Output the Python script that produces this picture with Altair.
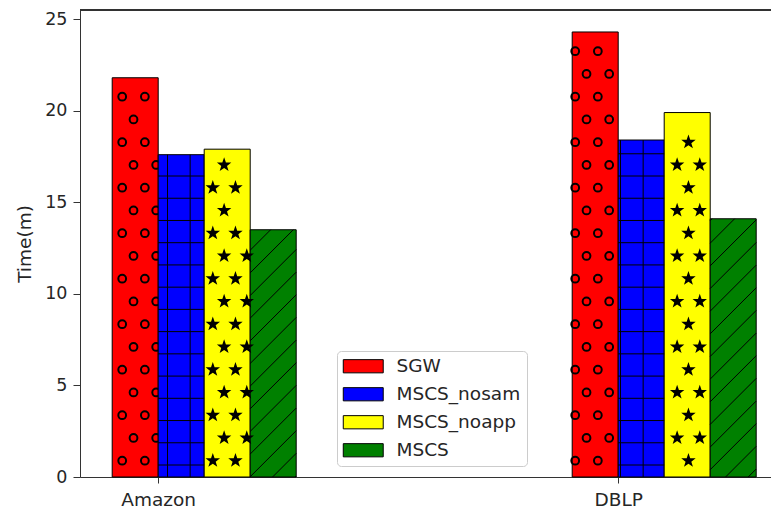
import math
import altair as alt
import numpy as np
import pandas as pd

# ---------------- data ----------------
categories = ["Amazon", "DBLP"]
series = ["SGW", "MSCS_nosam", "MSCS_noapp", "MSCS"]
sgw = [21.8, 24.3]
mscs_nosam = [17.6, 18.4]
mscs_noapp = [17.9, 19.9]
mscs = [13.5, 14.1]
colors = ["#ff0000", "#0000ff", "#ffff00", "#008000"]
y_ticks = [0, 5, 10, 15, 20, 25]

values = [sgw, mscs_nosam, mscs_noapp, mscs]

# ---------------- layout / style ----------------
PAD_L = 72
W, H = 691, 467
X_DOM = [-0.17, -0.17 + W / 460.0]
Y_DOM = [0, 25.5]
BAR_W = 0.1
PX_X = W / (X_DOM[1] - X_DOM[0])   # px per x unit
PX_Y = H / (Y_DOM[1] - Y_DOM[0])   # px per y unit
FONT = "DejaVu Sans"
FS = 18.5
TXT = "#262626"
SPINE = "#333333"

rows = []
for si, s in enumerate(series):
    for gi, c in enumerate(categories):
        x0 = gi + (si - 1) * BAR_W
        rows.append(dict(series=s, order=si, group=gi, category=c, x=x0, x2=x0 + BAR_W,
                         value=values[si][gi]))
bars = pd.DataFrame(rows)

# ---------------- hatch geometry (style) ----------------
DX = 22.65 / PX_X
DY = 22.75 / PX_Y
X_ORIGIN = -36.0 / PX_X
Y_ORIGIN = 16.3 / PX_Y


def lattice(x0, x1, top, ml, mr, my, nb_top, rad):
    pts = []
    m_max = int(top / DY) + 3
    for m in range(-1, m_max):
        y = Y_ORIGIN + m * DY
        if y < my or y > top - my:
            continue
        off = DX / 2 if m % 2 else 0.0
        kmin = int(math.floor((x0 - X_ORIGIN - off) / DX)) - 1
        for k in range(kmin, kmin + 8):
            x = X_ORIGIN + off + k * DX
            if not (x0 + ml <= x <= x1 - mr):
                continue
            # glyphs reaching past the right edge must sit over the next bar
            if x > x1 - rad / PX_X and y > nb_top - rad / PX_Y:
                continue
            pts.append((x, y))
    return pts


circ, stars, segs = [], [], []
for _, r in bars.iterrows():
    x0, x1, v = r["x"], r["x2"], r["value"]
    si, gi = r["order"], r["group"]
    nb = values[si + 1][gi] if si + 1 < len(series) else 0
    if si == 0:
        for x, y in lattice(x0, x1, v, 2.9 / PX_X, 0.5 / PX_X, 4.5 / PX_Y, nb, 5.5):
            circ.append(dict(x=x, y=y))
    elif si == 2:
        for x, y in lattice(x0, x1, v, 5.0 / PX_X, 0.5 / PX_X, 7.0 / PX_Y, nb, 8.0):
            stars.append(dict(x=x, y=y))
    elif si == 1:
        kmin = int(math.floor((x0 - X_ORIGIN) / DX)) - 1
        for k in range(kmin, kmin + 8):
            x = X_ORIGIN + k * DX
            if x0 + 1.5 / PX_X < x < x1 - 1.5 / PX_X:
                segs.append(dict(x=x, x2=x, y=0, y2=v))
        HY0, HDY = 12.0 / PX_Y, 22.23 / PX_Y
        n = 0
        while HY0 + n * HDY < v - 1.5 / PX_Y:
            segs.append(dict(x=x0, x2=x1, y=HY0 + n * HDY, y2=HY0 + n * HDY))
            n += 1
    else:
        d0, dp = 1.1, 22.65
        dmin = PX_X * x0 - PX_Y * v
        dmax = PX_X * x1
        n = int(math.floor((dmin - d0) / dp))
        while d0 + n * dp <= dmax:
            d = d0 + n * dp
            xs = max(x0, d / PX_X)
            xe = min(x1, (d + PX_Y * v) / PX_X)
            if xe > xs:
                segs.append(dict(x=xs, x2=xe, y=(PX_X * xs - d) / PX_Y, y2=(PX_X * xe - d) / PX_Y))
            n += 1

circ = pd.DataFrame(circ)
stars = pd.DataFrame(stars)
segs = pd.DataFrame(segs)

star_pts = []
for i in range(10):
    a = -math.pi / 2 + i * math.pi / 5
    rr = 1.0 if i % 2 == 0 else 0.40
    star_pts.append(f"{rr * math.cos(a):.3f},{rr * math.sin(a):.3f}")
STAR = "M" + "L".join(star_pts) + "Z"
# wide legend patch: 40 x 13.2 px with a 13.2 px symbol size
LEG_SYM = "M-3.03,-1L3.03,-1L3.03,1L-3.03,1Z"

x_scale = alt.Scale(domain=X_DOM, nice=False, zero=False)
y_scale = alt.Scale(domain=Y_DOM, nice=False)
c_scale = alt.Scale(domain=series, range=colors)

label_expr = f"'{categories[-1]}'"
for i in range(len(categories) - 2, -1, -1):
    label_expr = f"datum.value == {i} ? '{categories[i]}' : ({label_expr})"

x_axis = alt.Axis(values=list(range(len(categories))), labelExpr=label_expr, title=None,
                  grid=False, tickSize=6, labelPadding=7, labelFontSize=FS, labelFont=FONT,
                  labelColor=TXT, domainColor=SPINE, tickColor=SPINE, labelFlush=False)
y_axis = alt.Axis(values=y_ticks, title="Time(m)", grid=False, tickSize=7, labelPadding=6,
                  labelFontSize=FS - 1, labelFont=FONT, labelColor=TXT, titleFont=FONT,
                  titleFontSize=FS, titleFontWeight="normal", titleColor=TXT,
                  titleX=-56, titleY=H / 2, titleBaseline="middle", titleAngle=270,
                  domainColor=SPINE, tickColor=SPINE)
legend = alt.Legend(title=None, orient="none", legendX=257, legendY=341,
                    padding=6, fillColor="white", strokeColor="#cccccc",
                    cornerRadius=4, labelFontSize=FS, labelFont=FONT,
                    labelColor=TXT, symbolType=LEG_SYM, symbolSize=174,
                    symbolOffset=11, symbolStrokeColor="black",
                    symbolStrokeWidth=1, symbolOpacity=1,
                    labelOffset=24, rowPadding=9)

base = alt.Chart(bars).mark_rect(stroke="black", strokeWidth=1)

first_bars = base.transform_filter(alt.datum.order == 0).encode(
    x=alt.X("x:Q", scale=x_scale, axis=x_axis),
    x2="x2:Q",
    y=alt.Y("value:Q", scale=y_scale, axis=y_axis),
    y2=alt.datum(0),
    color=alt.Color("series:N", scale=c_scale, legend=legend),
)
other_bars = base.transform_filter(alt.datum.order > 0).encode(
    x=alt.X("x:Q", scale=x_scale),
    x2="x2:Q",
    y=alt.Y("value:Q", scale=y_scale),
    y2=alt.datum(0),
    color=alt.Color("series:N", scale=c_scale, legend=legend),
)

circ_layer = alt.Chart(circ).mark_point(shape="circle", filled=False, stroke="black",
                                        strokeWidth=2, size=60, opacity=1).encode(
    x=alt.X("x:Q", scale=x_scale), y=alt.Y("y:Q", scale=y_scale))

star_layer = alt.Chart(stars).mark_point(shape=STAR, filled=True, fill="black",
                                         strokeWidth=0, size=230, opacity=1).encode(
    x=alt.X("x:Q", scale=x_scale), y=alt.Y("y:Q", scale=y_scale))

seg_layer = alt.Chart(segs).mark_rule(color="black", strokeWidth=1).encode(
    x=alt.X("x:Q", scale=x_scale), x2="x2:Q",
    y=alt.Y("y:Q", scale=y_scale), y2="y2:Q")

top_spine = alt.Chart(bars).mark_rule(color=SPINE, strokeWidth=1).encode(
    x=alt.value(0), x2=alt.value(W), y=alt.value(0))

chart = alt.layer(first_bars, circ_layer, other_bars, seg_layer, star_layer,
                  top_spine).properties(
    width=W, height=H,
    autosize=alt.AutoSizeParams(type="none"),
    padding={"left": PAD_L, "top": 2, "right": 0, "bottom": 31},
).configure_view(stroke=None).configure(background="white")

chart.save("out.html", embed_options={"renderer": "svg", "actions": False})
